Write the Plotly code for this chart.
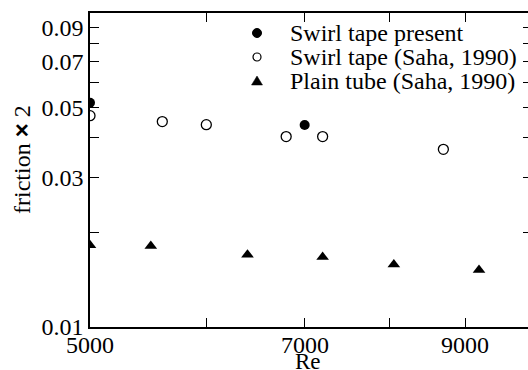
import numpy as np
import plotly.graph_objects as go

# ---------------- data ----------------
re_present = [5000, 7000]
f_present = [0.0518, 0.0440]

re_saha_swirl = [5000, 5600, 6000, 6800, 7200, 8700]
f_saha_swirl = [0.0471, 0.0451, 0.0441, 0.0404, 0.0404, 0.0368]

re_saha_plain = [5000, 5500, 6400, 7200, 8050, 9200]
f_saha_plain = [0.0182, 0.0181, 0.0170, 0.0167, 0.0158, 0.0152]

x_tickvals = [5000, 6000, 7000, 8000, 9000, 10000]
x_ticktext = ["5000", "", "7000", "", "9000", ""]
y_tickvals = [0.01, 0.02, 0.03, 0.04, 0.05, 0.06, 0.07, 0.08, 0.09, 0.1]
y_ticktext = ["0.01", "", "0.03", "", "0.05", "", "0.07", "", "0.09", ""]

legend_names = ["Swirl tape present", "Swirl tape (Saha, 1990)", "Plain tube (Saha, 1990)"]

SERIF = "Liberation Serif"
W, H = 528, 370
ML, MR, MT, MB = 90, 0, 13, 43
PX_PER_DEC_X = 1469.0

x_lo = np.log10(5000)
x_hi = x_lo + (W - ML - MR) / PX_PER_DEC_X

fig = go.Figure()
fig.add_trace(go.Scatter(x=re_present, y=f_present, mode="markers", name=legend_names[0],
                         marker=dict(symbol="circle", size=10, color="black"), showlegend=False))
fig.add_trace(go.Scatter(x=re_saha_swirl, y=f_saha_swirl, mode="markers", name=legend_names[1],
                         marker=dict(symbol="circle-open", size=10, color="black",
                                     line=dict(width=1.3, color="black")), showlegend=False))
fig.add_trace(go.Scatter(x=re_saha_plain, y=f_saha_plain, mode="markers", name=legend_names[2],
                         marker=dict(symbol="triangle-up", size=11, color="black"), showlegend=False))

axis_common = dict(type="log", ticks="inside", ticklen=9, tickwidth=1, tickcolor="black",
                   showgrid=False, zeroline=False, showline=True, linecolor="black", linewidth=1.5,
                   tickfont=dict(family=SERIF, size=24, color="black"))

fig.update_xaxes(range=[x_lo, x_hi], tickmode="array", tickvals=x_tickvals, ticktext=x_ticktext,
                 mirror="ticks", showticklabels=False, **axis_common)
fig.update_yaxes(range=[-2, -1], tickmode="array", tickvals=y_tickvals, ticktext=y_ticktext,
                 mirror=False, **axis_common)

# right-side short ticks (the frame continues beyond the visible window)
fig.update_layout(yaxis2=dict(type="log", range=[-2, -1], overlaying="y", side="right", anchor="x",
                              tickmode="array", tickvals=y_tickvals, showticklabels=False,
                              ticks="inside", ticklen=5, tickcolor="black", showline=False,
                              showgrid=False, zeroline=False))
fig.add_trace(go.Scatter(x=[5000], y=[0.05], yaxis="y2", mode="markers",
                         marker=dict(opacity=0), hoverinfo="skip", showlegend=False))

def px_to_paper(px, py):
    return (px - ML) / (W - ML - MR), (H - MB - py) / (H - MT - MB)

annotations = []
shapes = []

# x tick labels placed close to the axis (as in the reference)
_, xl_y = px_to_paper(0, 345)
for v, t in zip(x_tickvals, x_ticktext):
    if t:
        annotations.append(dict(x=np.log10(v), y=xl_y, xref="x", yref="paper", text=t, showarrow=False,
                                xanchor="center", yanchor="middle",
                                font=dict(family=SERIF, size=24, color="black")))

# legend drawn as marker shapes + text
leg_rows_py = [33, 57, 81]
mx, _ = px_to_paper(257, 0)
tx, _ = px_to_paper(288, 0)
for i, (name, py) in enumerate(zip(legend_names, leg_rows_py)):
    _, ypp = px_to_paper(0, py)
    annotations.append(dict(x=tx, y=ypp, xref="paper", yref="paper", text=name, showarrow=False,
                            xanchor="left", yanchor="middle",
                            font=dict(family=SERIF, size=24, color="black")))
    if i == 0:
        shapes.append(dict(type="circle", xref="paper", yref="paper", xsizemode="pixel", ysizemode="pixel",
                           xanchor=mx, yanchor=ypp, x0=-4.5, x1=4.5, y0=-4.5, y1=4.5,
                           fillcolor="black", line=dict(color="black", width=1)))
    elif i == 1:
        shapes.append(dict(type="circle", xref="paper", yref="paper", xsizemode="pixel", ysizemode="pixel",
                           xanchor=mx, yanchor=ypp, x0=-4, x1=4, y0=-4, y1=4,
                           fillcolor="white", line=dict(color="black", width=1.2)))
    else:
        shapes.append(dict(type="path", xref="paper", yref="paper", xsizemode="pixel", ysizemode="pixel",
                           xanchor=mx, yanchor=ypp, path="M -5.5,-4 L 5.5,-4 L 0,5 Z",
                           fillcolor="black", line=dict(color="black", width=0.5)))

# axis titles
ax_, ay_ = px_to_paper(21, 160)
annotations.append(dict(x=ax_, y=ay_, xref="paper", yref="paper", showarrow=False, textangle=-90,
                        text='friction <span style="font-family:Liberation Sans"><b>×</b></span> 2',
                        font=dict(family=SERIF, size=24, color="black"),
                        xanchor="center", yanchor="middle"))
rx, ry = px_to_paper(308, 361)
annotations.append(dict(x=rx, y=ry, xref="paper", yref="paper", showarrow=False, text="Re",
                        font=dict(family=SERIF, size=23, color="black"),
                        xanchor="center", yanchor="middle"))

fig.update_layout(width=W, height=H, margin=dict(l=ML, r=MR, t=MT, b=MB, pad=0),
                  paper_bgcolor="white", plot_bgcolor="white",
                  annotations=annotations, shapes=shapes, showlegend=False)

fig.write_html("out.html")
